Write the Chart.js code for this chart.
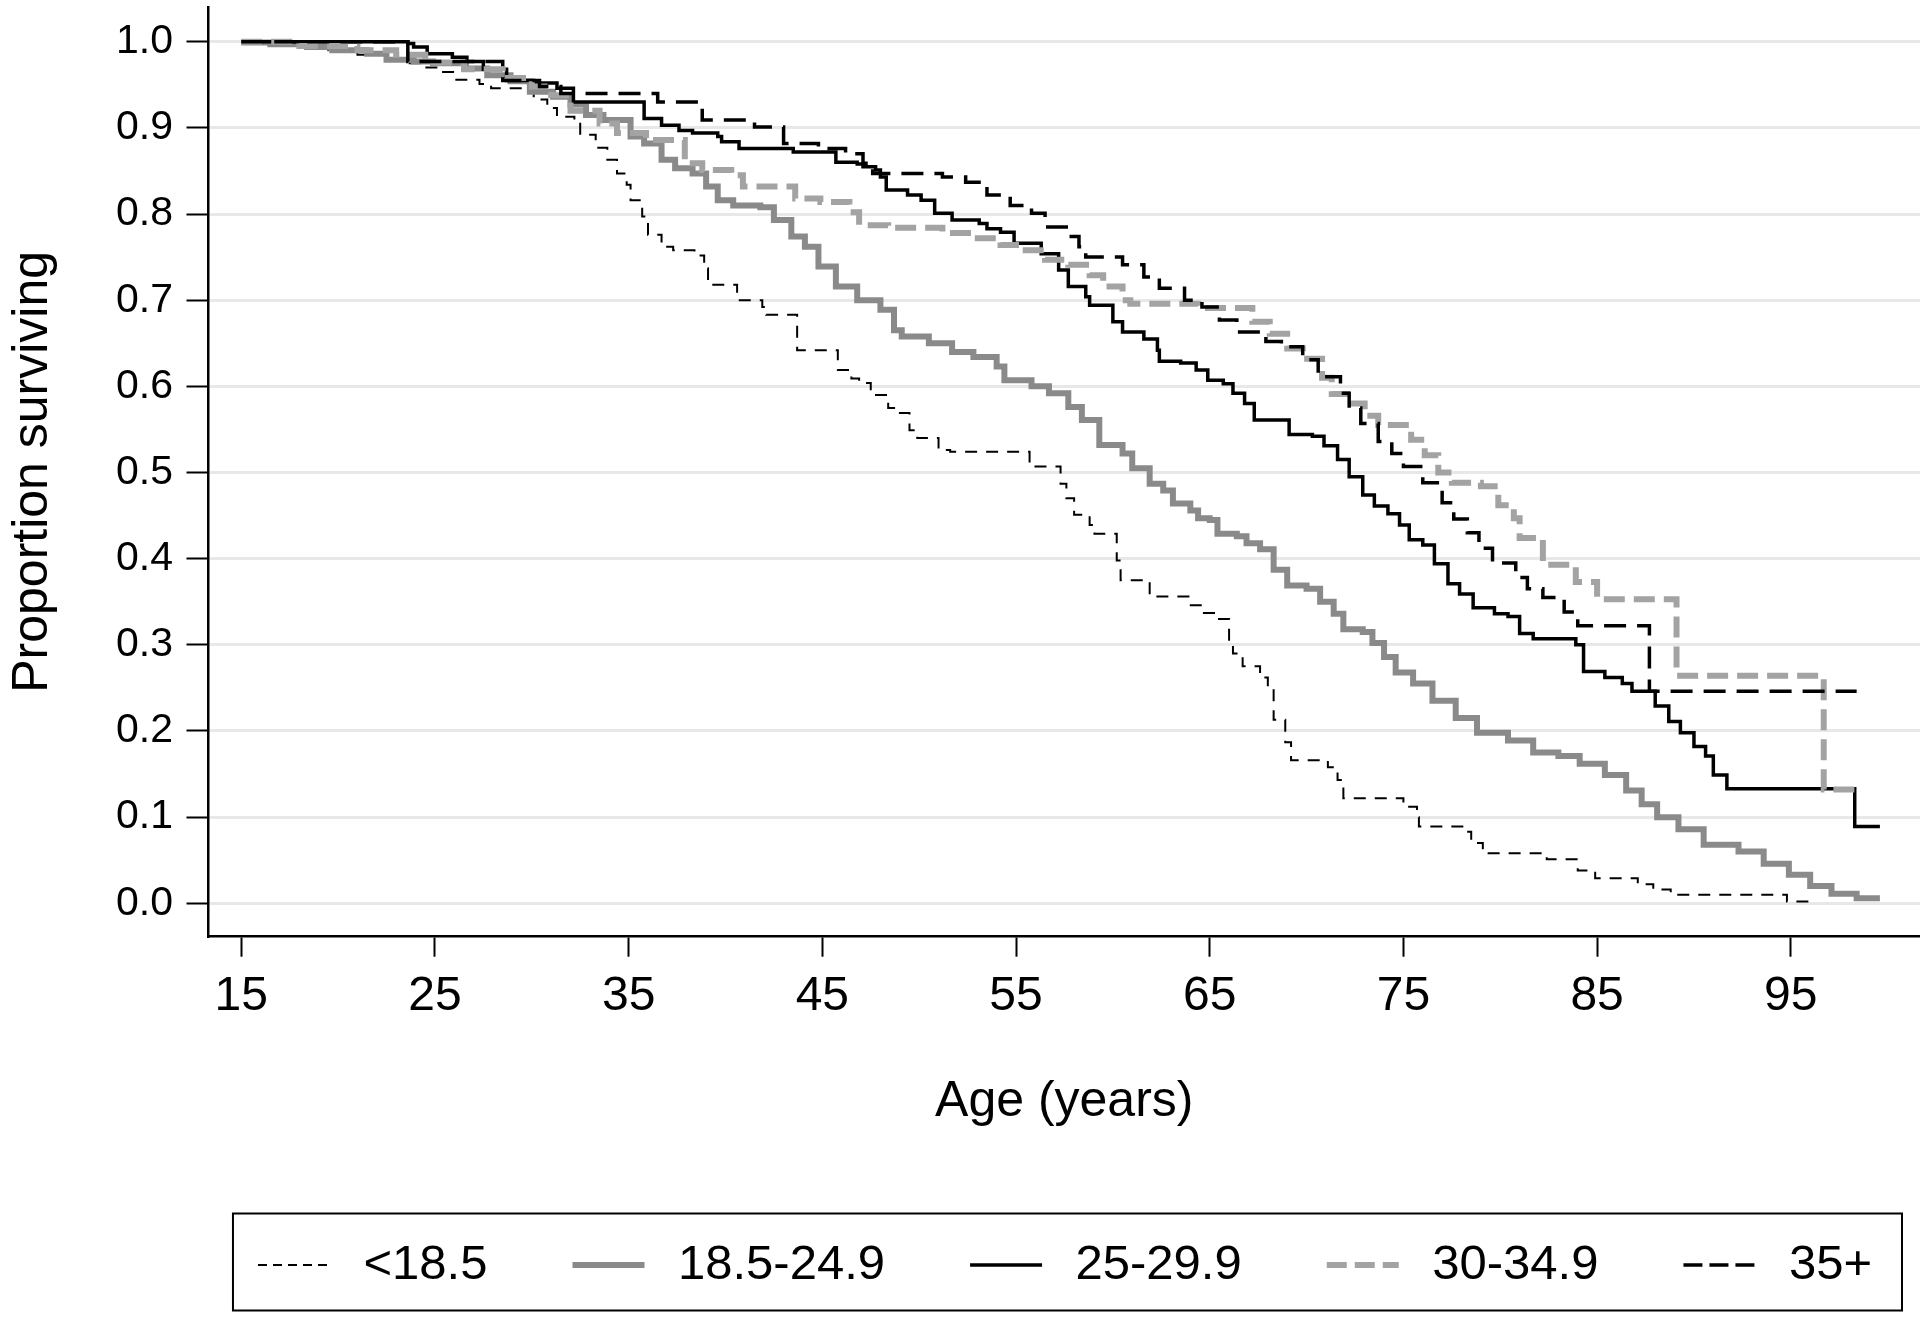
<!DOCTYPE html>
<html>
<head>
<meta charset="utf-8">
<script src="https://cdn.jsdelivr.net/npm/chart.js@4.4.1/dist/chart.umd.min.js"></script>
<style>
html,body{margin:0;padding:0;background:#fff;}
#wrap{width:1920px;height:1323px;}
</style>
</head>
<body>
<div id="wrap"><canvas id="c" width="1920" height="1323"></canvas></div>
<script>
// ---------- data ----------
const ageTicks = [15, 25, 35, 45, 55, 65, 75, 85, 95];
const propTicks = [0, 0.1, 0.2, 0.3, 0.4, 0.5, 0.6, 0.7, 0.8, 0.9, 1.0];
const seriesLabels = ['<18.5', '18.5-24.9', '25-29.9', '30-34.9', '35+'];

const ageUnder185 = [15,17.5,19.5,21,22.5,23.4,24.4,25.3,26,27.3,27.9,30.1,30.8,31.3,32.2,32.5,33.3,33.9,34.4,34.9,35.1,35.7,36,36.7,37.3,38.4,38.9,39.1,40.6,41.9,42.1,43.7,45.8,46.5,46.9,47.5,48.4,48.9,49.5,49.9,51,51.6,55.7,57.3,57.6,58,58.8,59.05,60.2,60.4,61.9,63.9,64.7,65.4,66,66.2,66.7,67.6,68,68.3,68.9,69.2,71.1,71.6,71.9,75,75.7,75.8,78.2,78.5,79.1,82.4,84,84.9,87.1,87.9,88.8,94.8,96];
const survUnder185 = [1,0.995,0.99,0.985,0.98,0.975,0.97,0.965,0.956,0.951,0.946,0.933,0.923,0.913,0.907,0.892,0.877,0.863,0.847,0.834,0.816,0.797,0.776,0.762,0.758,0.752,0.737,0.718,0.7,0.692,0.683,0.642,0.619,0.609,0.604,0.59,0.575,0.569,0.549,0.54,0.526,0.524,0.507,0.487,0.47,0.451,0.439,0.429,0.398,0.375,0.356,0.346,0.337,0.33,0.302,0.29,0.275,0.262,0.25,0.213,0.187,0.166,0.158,0.143,0.122,0.112,0.1,0.089,0.083,0.07,0.058,0.051,0.038,0.029,0.022,0.016,0.01,0.002,0.002];

const ageNormal = [15,16.5,18.4,19.7,21.5,22.5,23.9,24.9,26.6,27.7,28.9,29.9,31.1,32,32.8,33.7,35.1,35.8,36.7,37.4,38.3,39,39.6,40.4,41.8,42.5,43.4,44.1,44.8,45.7,46.8,48,48.7,49.1,50.5,51.7,52.8,54,54.4,55.8,56.7,57.7,58.4,59.3,60.5,61,61.9,62.6,63.1,64,64.4,65,65.4,66.4,66.9,67.6,68.3,69,70,70.7,71.4,71.9,72.9,73.4,74,74.6,75.5,76.5,77.7,78.8,80.4,81.7,83,84.1,85.4,86.5,87.3,88.1,89.2,90.5,92.3,93.6,94.9,96,97.1,98.4,99.6];
const survNormal = [0.999,0.997,0.994,0.99,0.986,0.979,0.977,0.975,0.969,0.961,0.954,0.942,0.936,0.927,0.915,0.909,0.89,0.882,0.863,0.853,0.847,0.832,0.816,0.81,0.808,0.793,0.774,0.762,0.739,0.716,0.7,0.689,0.665,0.658,0.65,0.64,0.634,0.623,0.607,0.6,0.592,0.576,0.561,0.532,0.522,0.505,0.487,0.479,0.464,0.456,0.447,0.445,0.429,0.426,0.418,0.411,0.387,0.369,0.365,0.35,0.336,0.318,0.315,0.302,0.286,0.268,0.255,0.235,0.215,0.198,0.189,0.175,0.171,0.162,0.149,0.131,0.115,0.1,0.086,0.068,0.06,0.046,0.033,0.02,0.011,0.006,0.006];

const ageOver = [15.4,23.6,23.9,24.6,25.9,26.65,27.5,28.7,30.1,31.3,32.15,35.8,36.7,37.6,38.3,39.6,39.8,40.7,43.5,45.7,46.8,47.1,47.75,48,48.3,49.4,50.1,50.8,51.7,53.1,53.5,54.2,54.9,56.3,57.2,57.7,58.6,58.8,60,60.5,61.6,62.3,62.4,63.5,64.3,64.9,65.7,66.2,66.8,67.3,69.1,70.3,70.9,71.6,72.2,72.9,73.5,74.2,74.8,75.3,76,76.6,77.3,77.9,78.6,79.7,80.4,81,81.7,83.9,84.3,85.4,86.3,86.8,88,88.7,89.3,90,90.6,91,91.7,98.3,99.6];
const survOver = [1,0.998,0.994,0.986,0.982,0.977,0.968,0.955,0.952,0.946,0.93,0.911,0.903,0.897,0.894,0.89,0.884,0.876,0.872,0.86,0.858,0.855,0.851,0.843,0.828,0.822,0.816,0.801,0.793,0.789,0.783,0.779,0.766,0.754,0.735,0.716,0.704,0.694,0.675,0.663,0.655,0.642,0.629,0.627,0.619,0.607,0.603,0.592,0.58,0.561,0.544,0.542,0.531,0.515,0.495,0.474,0.461,0.452,0.439,0.422,0.416,0.394,0.371,0.359,0.343,0.336,0.333,0.313,0.307,0.3,0.269,0.262,0.255,0.246,0.229,0.211,0.198,0.182,0.171,0.149,0.133,0.089,0.089];

const ageObese1 = [15,18,21,23,24.5,26.5,28.5,30,31,32,33.5,34.4,35.9,37.9,38.8,40.3,40.9,43.6,44.9,46.4,46.9,48.4,51.2,52.8,54.2,55,56.5,57.7,58.8,59.5,60.5,60.9,64.4,67.2,68.1,69,69.8,70.8,71.3,72.3,73,73.7,75.4,76.1,76.8,77.5,79,79.9,80.7,81,82.2,83.9,85,89.1,96.7,98.3];
const survObese1 = [1,0.995,0.99,0.985,0.976,0.968,0.958,0.948,0.938,0.92,0.905,0.894,0.886,0.859,0.851,0.845,0.832,0.818,0.814,0.802,0.787,0.784,0.778,0.772,0.764,0.758,0.747,0.741,0.729,0.716,0.7,0.696,0.691,0.675,0.661,0.644,0.632,0.61,0.591,0.58,0.566,0.555,0.538,0.52,0.5,0.488,0.484,0.462,0.447,0.424,0.393,0.373,0.353,0.264,0.132,0.132];

const ageObese2 = [15,23.6,28.5,30.4,31.5,36.5,38.8,41.5,43,44.8,46.2,47.1,47.6,51.2,52.4,53.5,54.7,55.8,56.5,57.7,58.25,58.6,60.5,61.6,62.4,63.7,64.6,65.5,66.4,67.9,68.7,69.8,70.6,71.75,72.2,72.8,73.7,74.4,75,76,77,77.6,78.3,78.9,79.6,80.8,81.4,82.2,83.3,84,87.7,98.4];
const survObese2 = [1,0.977,0.955,0.948,0.94,0.93,0.909,0.901,0.882,0.876,0.87,0.859,0.847,0.843,0.837,0.822,0.81,0.801,0.785,0.774,0.762,0.75,0.741,0.727,0.714,0.7,0.692,0.677,0.663,0.652,0.646,0.631,0.611,0.592,0.575,0.557,0.536,0.522,0.507,0.488,0.465,0.446,0.43,0.412,0.395,0.378,0.365,0.355,0.338,0.322,0.246,0.246];

// ---------- styles ----------
const seriesColors = ['#000000', '#8a8a8a', '#000000', '#a3a3a3', '#000000'];
const seriesWidths = [2, 6, 3.5, 6, 3.5];
const seriesDashes = [[12, 9], [], [], [21, 9], [22, 11]];
const legendDashes = [[9, 6], [], [], [20, 8], [19, 7]];
const seriesAges = [ageUnder185, ageNormal, ageOver, ageObese1, ageObese2];
const seriesSurv = [survUnder185, survNormal, survOver, survObese1, survObese2];

const FONT = "'Liberation Sans', Arial, Helvetica, sans-serif";
Chart.defaults.font.family = FONT;
Chart.defaults.color = '#000';

// legend samples (line drawn after a transparent lead-in gap)
const LEG_GAP = 37, LEG_LINE = 72, LEG_TAIL = 9;
function makeSample(i) {
  const cv = document.createElement('canvas');
  cv.width = LEG_GAP + LEG_LINE + LEG_TAIL;
  cv.height = 14;
  const g = cv.getContext('2d');
  g.strokeStyle = seriesColors[i];
  g.lineWidth = seriesWidths[i];
  g.setLineDash(legendDashes[i]);
  g.beginPath();
  g.moveTo(LEG_GAP, 7);
  g.lineTo(LEG_GAP + LEG_LINE, 7);
  g.stroke();
  return cv;
}
const samples = seriesLabels.map((_, i) => makeSample(i));

const datasets = seriesLabels.map((lab, i) => ({
  label: lab,
  data: seriesAges[i].map((a, k) => ({x: a, y: seriesSurv[i][k]})),
  borderColor: seriesColors[i],
  backgroundColor: seriesColors[i],
  borderWidth: seriesWidths[i],
  borderDash: seriesDashes[i],
  stepped: 'before',
  pointRadius: 0,
  pointHoverRadius: 0,
  fill: false,
  tension: 0,
  borderCapStyle: 'butt',
  borderJoinStyle: 'miter',
  order: seriesLabels.length - i
}));

const legendFrame = {
  id: 'legendFrame',
  afterDraw(chart) {
    const hb = chart.legend && chart.legend.legendHitBoxes;
    if (!hb || !hb.length) return;
    const first = hb[0], last = hb[hb.length - 1];
    const left = first.left + LEG_GAP - 25;
    const right = last.left + last.width + 30;
    const top = first.top - 27;
    const bottom = first.top + first.height + 21;
    const ctx = chart.ctx;
    ctx.save();
    ctx.strokeStyle = '#000';
    ctx.lineWidth = 2;
    ctx.setLineDash([]);
    ctx.strokeRect(left, top, right - left, bottom - top);
    ctx.restore();
  }
};

new Chart(document.getElementById('c'), {
  type: 'line',
  data: {datasets},
  plugins: [legendFrame],
  options: {
    responsive: false,
    animation: false,
    events: [],
    layout: {autoPadding: false, padding: {top: 7, bottom: 23.5, left: 0, right: 0}},
    plugins: {
      tooltip: {enabled: false},
      legend: {
        display: true,
        position: 'bottom',
        align: 'end',
        fullSize: true,
        labels: {
          usePointStyle: true,
          pointStyleWidth: LEG_GAP + LEG_LINE + LEG_TAIL,
          padding: 48,
          color: '#000',
          font: {size: 49, family: FONT},
          sort: (a, b) => a.datasetIndex - b.datasetIndex,
          generateLabels(chart) {
            const items = Chart.defaults.plugins.legend.labels.generateLabels(chart);
            items.forEach(it => { it.pointStyle = samples[it.datasetIndex]; it.fontColor = '#000'; });
            return items;
          }
        }
      }
    },
    scales: {
      x: {
        type: 'linear',
        min: 13.31,
        max: 101.67,
        offset: false,
        afterBuildTicks(scale) { scale.ticks = ageTicks.map(v => ({value: v})); },
        afterFit(scale) { scale.height = 255.8; scale.paddingLeft = 0; scale.paddingRight = 0; },
        ticks: {
          autoSkip: false,
          maxRotation: 0,
          padding: 11,
          color: '#000',
          font: {size: 48, family: FONT},
          callback: (v) => String(v)
        },
        grid: {
          display: true,
          drawOnChartArea: false,
          drawTicks: true,
          tickLength: 20,
          tickWidth: 2,
          tickColor: '#000'
        },
        border: {display: true, color: '#000', width: 2.5},
        title: {
          display: true,
          text: 'Age (years)',
          color: '#000',
          font: {size: 50, family: FONT},
          padding: {top: 0, bottom: 60.5}
        }
      },
      y: {
        type: 'linear',
        min: -0.03877,
        max: 1.0403,
        afterBuildTicks(scale) { scale.ticks = propTicks.map(v => ({value: v})); },
        afterFit(scale) { scale.width = 208.5; scale.paddingTop = 0; scale.paddingBottom = 0; },
        ticks: {
          autoSkip: false,
          padding: 13.5,
          color: '#000',
          font: {size: 41, family: FONT},
          callback: (v) => Number(v).toFixed(1)
        },
        grid: {
          display: true,
          drawOnChartArea: true,
          drawTicks: true,
          color: '#e8e8e8',
          lineWidth: 3,
          tickLength: 22,
          tickWidth: 2,
          tickColor: '#000'
        },
        border: {display: true, color: '#000', width: 2.5},
        title: {
          display: true,
          text: 'Proportion surviving',
          color: '#000',
          font: {size: 50, family: FONT},
          padding: {top: 3, bottom: 0}
        }
      }
    }
  }
});
</script>
</body>
</html>
